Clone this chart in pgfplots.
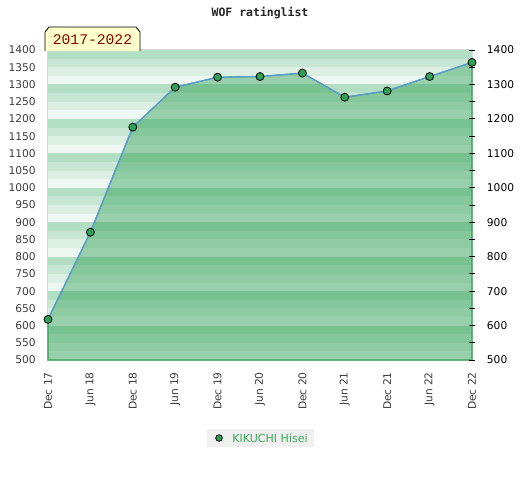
\documentclass[border=0pt]{standalone}
\usepackage{pgfplots}
\pgfplotsset{compat=1.18}
\usepackage{fontspec}
\setmainfont{DejaVu Sans}
\newfontfamily\monofont{DejaVu Sans Mono}
\newfontfamily\tagfont{Liberation Mono}
\definecolor{bandA}{RGB}{178,222,195}
\definecolor{bandB}{RGB}{199,231,212}
\definecolor{bandC}{RGB}{220,239,227}
\definecolor{bandD}{RGB}{239,247,242}
\definecolor{areagreen}{RGB}{50,161,87}
\definecolor{linecol}{RGB}{91,155,213}
\definecolor{markgreen}{RGB}{46,160,87}
\definecolor{legtext}{RGB}{60,170,90}
\definecolor{frame}{RGB}{215,215,215}
\definecolor{labgray}{RGB}{60,60,60}
\definecolor{tagbg}{RGB}{255,255,204}
\definecolor{tagtext}{RGB}{139,0,0}

\pgfplotstableread{
x y
0 618
1 871
2 1176
3 1292
4 1321
5 1323
6 1333
7 1263
8 1281
9 1323
10 1364
}\ratings

\begin{document}
\begin{tikzpicture}[x=0.75pt,y=0.75pt]
\path[use as bounding box] (0,0) rectangle (520,480);
% title
\node[font=\monofont\bfseries\fontsize{8.6pt}{10pt}\selectfont, text=black!85] at (260,467) {WOF ratinglist};
\begin{axis}[
  at={(36pt,90pt)}, anchor=south west,
  scale only axis, width=318pt, height=232.5pt,
  xmin=0, xmax=10, ymin=500, ymax=1400,
  axis line style={frame, line width=1pt},
  xtick={0,...,10},
  xticklabels={Dec 17,Jun 18,Dec 18,Jun 19,Dec 19,Jun 20,Dec 20,Jun 21,Dec 21,Jun 22,Dec 22},
  ytick={500,550,...,1400},
  xticklabel pos=lower, yticklabel pos=left,
  major tick length=0pt,
  tick style={draw=none},
  every tick label/.append style={font=\fontsize{8pt}{9pt}\selectfont, text=labgray, inner sep=0pt},
  yticklabel style={anchor=east, xshift=-9pt},
  xticklabel style={rotate=90, anchor=east, xshift=-9pt},
  /pgf/number format/assume math mode=true,
  /pgf/number format/set thousands separator={},
  clip=false,
]
% background bands
\pgfplotsforeachungrouped \b in {500,600,...,1300} {
  \pgfmathsetmacro\ya{\b+100}\pgfmathsetmacro\yb{\b+75}\pgfmathsetmacro\yc{\b+50}\pgfmathsetmacro\yd{\b+25}
  \edef\cmd{\noexpand\fill[bandA] (axis cs:0,\ya) rectangle (axis cs:10,\yb);
    \noexpand\fill[bandB] (axis cs:0,\yb) rectangle (axis cs:10,\yc);
    \noexpand\fill[bandC] (axis cs:0,\yc) rectangle (axis cs:10,\yd);
    \noexpand\fill[bandD] (axis cs:0,\yd) rectangle (axis cs:10,\b);}
  \cmd
}
\addplot[draw=areagreen, line width=0.8pt, fill=areagreen, fill opacity=0.45, draw opacity=1, forget plot] table[x=x,y=y] {\ratings} \closedcycle;
\addplot[color=linecol, line width=1pt, mark=*, mark size=3pt,
  mark options={fill=markgreen, draw=black, line width=0.6pt}, forget plot] table[x=x,y=y] {\ratings};
\end{axis}
\begin{axis}[
  at={(36pt,90pt)}, anchor=south west,
  scale only axis, width=318pt, height=232.5pt,
  xmin=0, xmax=10, ymin=500, ymax=1400,
  axis x line=none,
  axis y line*=right,
  axis line style={draw=none},
  ytick={500,600,...,1400},
  minor ytick={550,650,...,1350},
  major tick length=4pt, minor tick length=4pt,
  tick style={black, line width=0.6pt},
  tick align=center,
  every tick label/.append style={font=\fontsize{8pt}{9pt}\selectfont, text=black, inner sep=0pt},
  yticklabel style={anchor=west, xshift=9pt},
  /pgf/number format/assume math mode=true,
  /pgf/number format/set thousands separator={},
]
\end{axis}
% legend
\fill[black!6] (207,33) rectangle (314,51);
\filldraw[fill=markgreen, draw=black, line width=0.6pt] (219,42) circle (3.3);
\node[anchor=west, inner sep=0pt, font=\fontsize{8.3pt}{9pt}\selectfont, text=legtext] at (232,42) {KIKUCHI Hisei};
% tag
\filldraw[fill=tagbg, draw=black, line width=0.6pt]
  (45,429) -- (45,448) -- (49,453) -- (136,453) -- (140,448) -- (140,429);
\node[font=\tagfont\fontsize{11pt}{12pt}\selectfont, text=tagtext] at (92.5,440) {2017-2022};
\end{tikzpicture}
\end{document}
